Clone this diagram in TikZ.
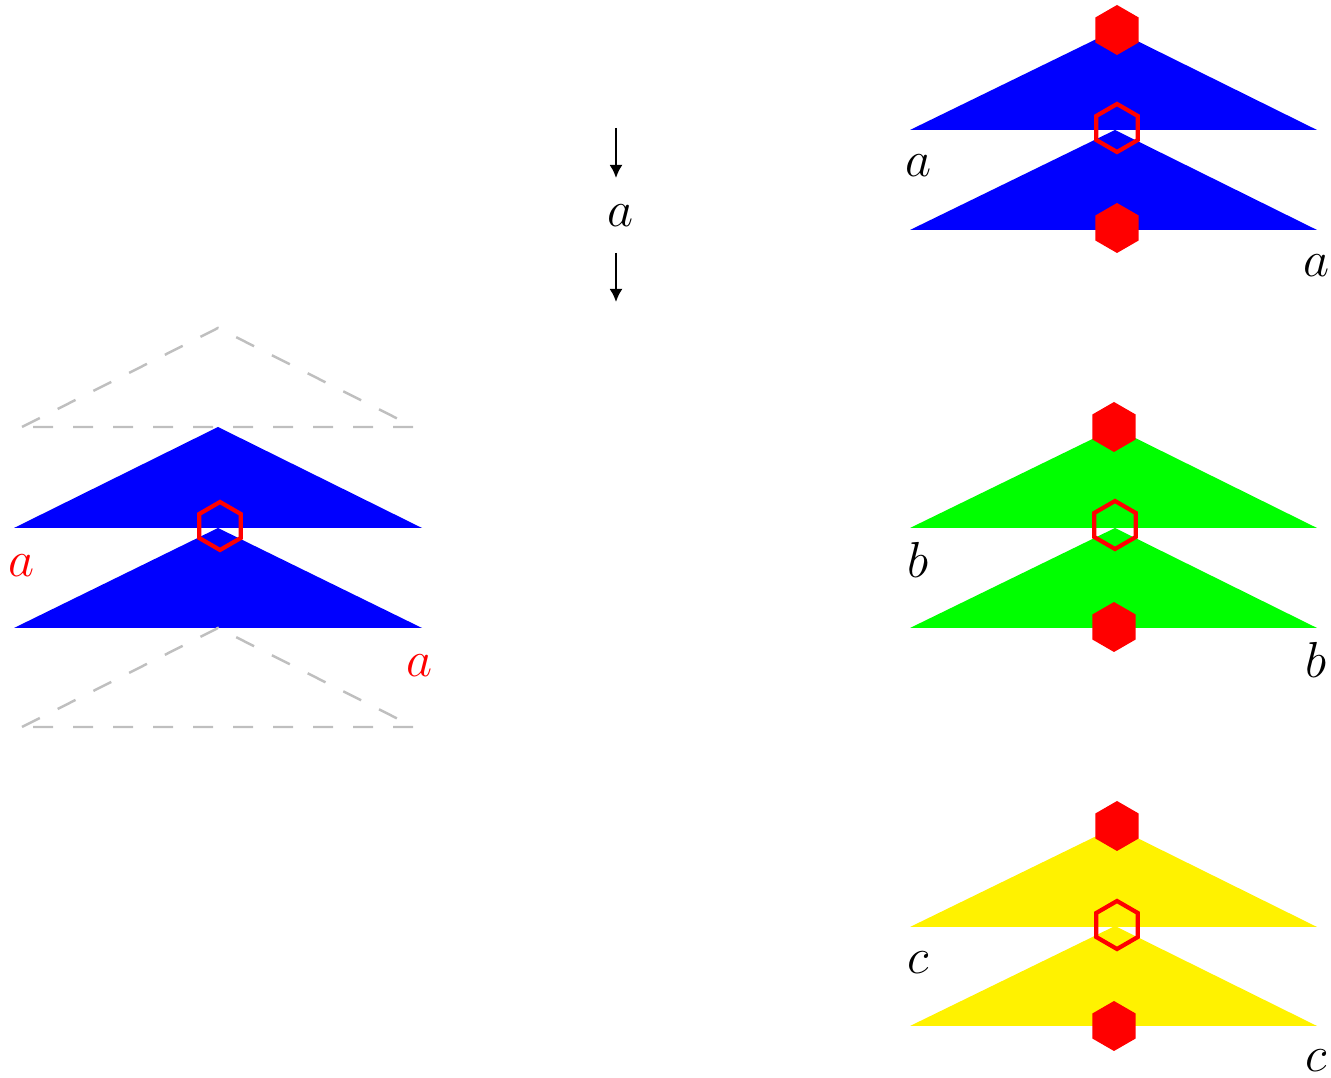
\documentclass[tikz,border=0pt]{standalone}
\usepackage{tikz}
\usetikzlibrary{arrows.meta,shapes.geometric}
\definecolor{ghost}{HTML}{BFBFBF}
\tikzset{
  >=Latex,
  every node/.style={font=\fontsize{13.5}{15}\selectfont},
  lbl/.style={inner sep=0pt},
  redlbl/.style={lbl,text=red},
  hexfull/.style={regular polygon,regular polygon sides=6,shape border rotate=30,minimum size=5mm,inner sep=0pt,fill=red},
  hexring/.style={regular polygon,regular polygon sides=6,shape border rotate=30,minimum size=4.8mm,inner sep=0pt,draw=red,line width=1.2pt},
  ghosttri/.style={draw=ghost,line width=0.7pt,dash pattern=on 2mm off 2mm},
  step arrow/.style={->,line width=0.6pt,>={Latex[length=1.3mm,width=1.3mm]}},
}
\begin{document}
\begin{tikzpicture}[y=-1cm]
\useasboundingbox (0,0) rectangle (13.31,10.78);
% left: blue pair between ghost copies
\draw[ghosttri] (0.22,4.27) -- (2.18,3.28) -- (4.14,4.27) -- cycle;
\fill[blue] (0.14,5.28) -- (2.18,4.27) -- (4.22,5.28) -- cycle;
\fill[blue] (0.14,6.28) -- (2.18,5.28) -- (4.22,6.28) -- cycle;
\draw[ghosttri] (0.22,7.27) -- (2.18,6.28) -- (4.14,7.27) -- cycle;
\node[hexring] (lhex) at (2.20,5.26) {};
\node[redlbl] (la1) at (0.22,5.66) {$a$};
\node[redlbl] (la2) at (4.20,6.66) {$a$};
% middle
\coordinate (m1) at (6.16,1.28);
\coordinate (m2) at (6.16,1.78);
\node[lbl] (ma) at (6.20,2.16) {$a$};
\coordinate (m3) at (6.16,2.53);
\coordinate (m4) at (6.16,3.02);
\draw[step arrow] (m1) -- (m2);
\draw[step arrow] (m3) -- (m4);
% right: blue
\fill[blue] (9.10,1.30) -- (11.15,0.30) -- (13.17,1.30) -- cycle;
\fill[blue] (9.10,2.30) -- (11.15,1.30) -- (13.17,2.30) -- cycle;
\node[hexfull] (at) at (11.17,0.30) {};
\node[hexring] (am) at (11.17,1.28) {};
\node[hexfull] (ab) at (11.17,2.28) {};
\node[lbl] (a1) at (9.18,1.66) {$a$};
\node[lbl] (a2) at (13.16,2.66) {$a$};
% right: green
\fill[green] (9.10,5.28) -- (11.15,4.28) -- (13.17,5.28) -- cycle;
\fill[green] (9.10,6.28) -- (11.15,5.28) -- (13.17,6.28) -- cycle;
\node[hexfull] (bt) at (11.14,4.27) {};
\node[hexring] (bm) at (11.15,5.25) {};
\node[hexfull] (bb) at (11.14,6.27) {};
\node[lbl] (b1) at (9.18,5.60) {$b$};
\node[lbl] (b2) at (13.16,6.60) {$b$};
% right: yellow
\fill[yellow] (9.10,9.27) -- (11.15,8.27) -- (13.17,9.27) -- cycle;
\fill[yellow] (9.10,10.26) -- (11.15,9.26) -- (13.17,10.26) -- cycle;
\node[hexfull] (ct) at (11.17,8.26) {};
\node[hexring] (cm) at (11.17,9.25) {};
\node[hexfull] (cb) at (11.14,10.26) {};
\node[lbl] (c1) at (9.18,9.63) {$c$};
\node[lbl] (c2) at (13.16,10.61) {$c$};
\end{tikzpicture}
\end{document}
